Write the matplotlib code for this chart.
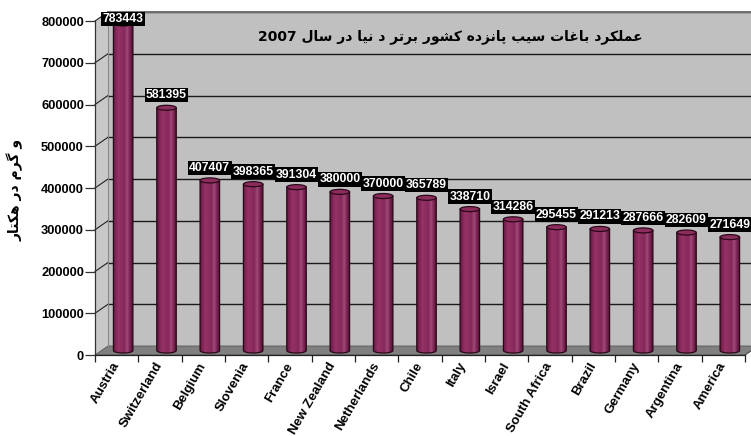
"""Apple orchard yield of the top fifteen countries, 2007 (Excel-style 3D cylinders)."""
import matplotlib
matplotlib.use("Agg")
import matplotlib.pyplot as plt
import numpy as np
from matplotlib.colors import LinearSegmentedColormap
from matplotlib.patches import Polygon, Ellipse, PathPatch
from matplotlib.path import Path

# --- DATA ---
countries = ["Austria", "Switzerland", "Belgium", "Slovenia", "France",
             "New Zealand", "Netherlands", "Chile", "Italy", "Israel",
             "South Africa", "Brazil", "Germany", "Argentina", "America"]
yields = [783443, 581395, 407407, 398365, 391304, 380000, 370000, 365789,
          338710, 314286, 295455, 291213, 287666, 282609, 271649]
y_ticks = [0, 100000, 200000, 300000, 400000, 500000, 600000, 700000, 800000]

title_fa = "عملکرد باغات سیب پانزده کشور برتر د نیا در سال 2007"
ylabel_fa = "و گرم در هکتار"

# --- minimal Persian shaping (presentation forms + RTL order) ---
FORMS = {
    'ا': ('\uFE8D', '\uFE8E', None, None),
    'ب': ('\uFE8F', '\uFE90', '\uFE91', '\uFE92'),
    'پ': ('\uFB56', '\uFB57', '\uFB58', '\uFB59'),
    'ت': ('\uFE95', '\uFE96', '\uFE97', '\uFE98'),
    'د': ('\uFEA9', '\uFEAA', None, None),
    'ر': ('\uFEAD', '\uFEAE', None, None),
    'ز': ('\uFEAF', '\uFEB0', None, None),
    'س': ('\uFEB1', '\uFEB2', '\uFEB3', '\uFEB4'),
    'ش': ('\uFEB5', '\uFEB6', '\uFEB7', '\uFEB8'),
    'ع': ('\uFEC9', '\uFECA', '\uFECB', '\uFECC'),
    'غ': ('\uFECD', '\uFECE', '\uFECF', '\uFED0'),
    'ک': ('\uFB8E', '\uFB8F', '\uFB90', '\uFB91'),
    'گ': ('\uFB92', '\uFB93', '\uFB94', '\uFB95'),
    'ل': ('\uFEDD', '\uFEDE', '\uFEDF', '\uFEE0'),
    'م': ('\uFEE1', '\uFEE2', '\uFEE3', '\uFEE4'),
    'ن': ('\uFEE5', '\uFEE6', '\uFEE7', '\uFEE8'),
    'ه': ('\uFEE9', '\uFEEA', '\uFEEB', '\uFEEC'),
    'و': ('\uFEED', '\uFEEE', None, None),
    'ی': ('\uFBFC', '\uFBFD', '\uFBFE', '\uFBFF'),
}
RIGHT_ONLY = set('ادذرزژو')


def shape_word(word):
    out = []
    for k, ch in enumerate(word):
        if ch not in FORMS:
            out.append(ch)
            continue
        prev_j = k > 0 and word[k - 1] in FORMS and word[k - 1] not in RIGHT_ONLY
        next_j = (k < len(word) - 1 and word[k + 1] in FORMS
                  and ch not in RIGHT_ONLY)
        isol, fin, ini, med = FORMS[ch]
        if prev_j and next_j:
            out.append(med)
        elif prev_j:
            out.append(fin)
        elif next_j:
            out.append(ini)
        else:
            out.append(isol)
    return ''.join(reversed(out))


def rtl(text):
    words = text.split(' ')
    return ' '.join(w if w.isdigit() else shape_word(w) for w in reversed(words))


LATIN = ['Liberation Sans', 'DejaVu Sans']
PERSIAN = ['DejaVu Sans']

W, H = 751, 436
fig = plt.figure(figsize=(W / 100, H / 100), dpi=100)
fig.patch.set_facecolor('white')

# front plane of the plot: x 95..745 px, y 355..21 px
ax = fig.add_axes([95 / W, (H - 355) / H, 650 / W, 334 / H])
ax.patch.set_visible(False)
n = len(countries)
YMAX = y_ticks[-1]

# depth offset of the back wall, in data units
DX = 0.30
DY = 21500
WALL = '#C0C0C0'

# back wall, side wall, floor
ax.add_patch(Polygon([(DX, DY), (n + 1, DY), (n + 1, YMAX + DY), (DX, YMAX + DY)],
                     closed=True, fc=WALL, ec='none', zorder=0, clip_on=False))
ax.add_patch(Polygon([(0, 0), (DX, DY), (DX, YMAX + DY), (0, YMAX)],
                     closed=True, fc='#C8C8C8', ec='none', zorder=0, clip_on=False))
ax.add_patch(Polygon([(0, 0), (n, 0), (n + DX, DY), (DX, DY)],
                     closed=True, fc='#808080', ec='#555555', lw=0.6, zorder=1,
                     clip_on=False))

# gridlines on side wall and back wall
for v in y_ticks[1:]:
    ax.plot([0, DX], [v, v + DY], color='#222222', lw=0.8, zorder=1, clip_on=False)
    ax.plot([DX, n + 1], [v + DY, v + DY], color='#1a1a1a', lw=1.0, zorder=1,
            clip_on=False)
ax.plot([DX, n + 1], [YMAX + DY, YMAX + DY], color='#707070', lw=1.4, zorder=1,
        clip_on=False)
ax.plot([DX, DX], [DY, YMAX + DY], color='#8a8a8a', lw=0.8, zorder=1, clip_on=False)
ax.plot([n, n + DX], [0, DY], color='#555555', lw=0.8, zorder=1, clip_on=False)

# cylinders
cyl = LinearSegmentedColormap.from_list(
    'cyl', ['#5e163d', '#86285a', '#953266', '#8e2d60', '#84285a',
            '#a04a78', '#7a2252', '#4e1232'])
grad = np.linspace(0, 1, 64).reshape(1, -1)
BW = 0.45        # cylinder width (category units)
EH = 12000       # ellipse height (value units)
t = np.linspace(np.pi, 2 * np.pi, 40)

for i, v in enumerate(yields):
    cx = i + 0.5 + DX / 2
    x0, x1 = cx - BW / 2, cx + BW / 2
    y0, y1 = DY / 2, v + DY / 2
    verts = ([(x0, y1)] + list(zip(cx + BW / 2 * np.cos(t), y0 + EH / 2 * np.sin(t)))
             + [(x1, y1), (x0, y1)])
    body = Path(verts, closed=True)
    patch = PathPatch(body, fc='none', ec='#2a0818', lw=0.9, zorder=4)
    ax.add_patch(patch)
    im = ax.imshow(grad, extent=(x0, x1, y0 - EH, y1), aspect='auto', cmap=cyl,
                   zorder=3, interpolation='bilinear')
    im.set_clip_path(patch)
    ax.add_patch(Ellipse((cx, y1), BW, EH, fc='#8c2c5d', ec='#2a0818', lw=0.9,
                         zorder=5))

# value labels (black boxes, white text); kept inside the plot top
for i, v in enumerate(yields):
    cx = i + 0.5 + DX / 2
    ly = min(v + DY / 2 + 30000, 805000)
    ax.text(cx, ly, str(v), ha='center', va='center', color='white',
            fontsize=8.8, fontweight='bold', family=LATIN, zorder=10 + i,
            bbox=dict(boxstyle='square,pad=0.1', fc='black', ec='none'),
            clip_on=False)

ax.set_xlim(0, n)
ax.set_ylim(0, YMAX)

# axes styling
for s in ('top', 'right'):
    ax.spines[s].set_visible(False)
ax.spines['left'].set_color('#333333')
ax.spines['bottom'].set_color('#222222')
ax.spines['left'].set_linewidth(0.9)
ax.spines['bottom'].set_linewidth(0.9)
ax.spines['left'].set_zorder(2)
ax.spines['bottom'].set_zorder(2)

ax.set_yticks(y_ticks)
ax.set_yticklabels([str(v) for v in y_ticks], fontsize=9.3, fontweight='bold',
                   family=LATIN)
ax.tick_params(axis='y', direction='out', length=7, width=0.9, color='#333333', pad=1)

ax.set_xticks(np.arange(n + 1))
ax.set_xticklabels([])
ax.tick_params(axis='x', which='major', direction='out', length=5, width=0.9,
               color='#222222')
ax.set_xticks(np.arange(n) + 0.5, minor=True)
ax.set_xticklabels(countries, minor=True, rotation=60, ha='right', va='center',
                   rotation_mode='anchor', fontsize=9.5, fontweight='bold',
                   family=LATIN)
ax.tick_params(axis='x', which='minor', length=0, pad=6)

# titles
fig.text(450 / W, 1 - 37 / H, rtl(title_fa), ha='center', va='center',
         fontsize=10, fontweight='bold', family=PERSIAN)
fig.text(15 / W, 1 - 190 / H, rtl(ylabel_fa), ha='center', va='center',
         rotation=90, fontsize=10, fontweight='bold', family=PERSIAN)

fig.savefig('out.png', dpi=100)
